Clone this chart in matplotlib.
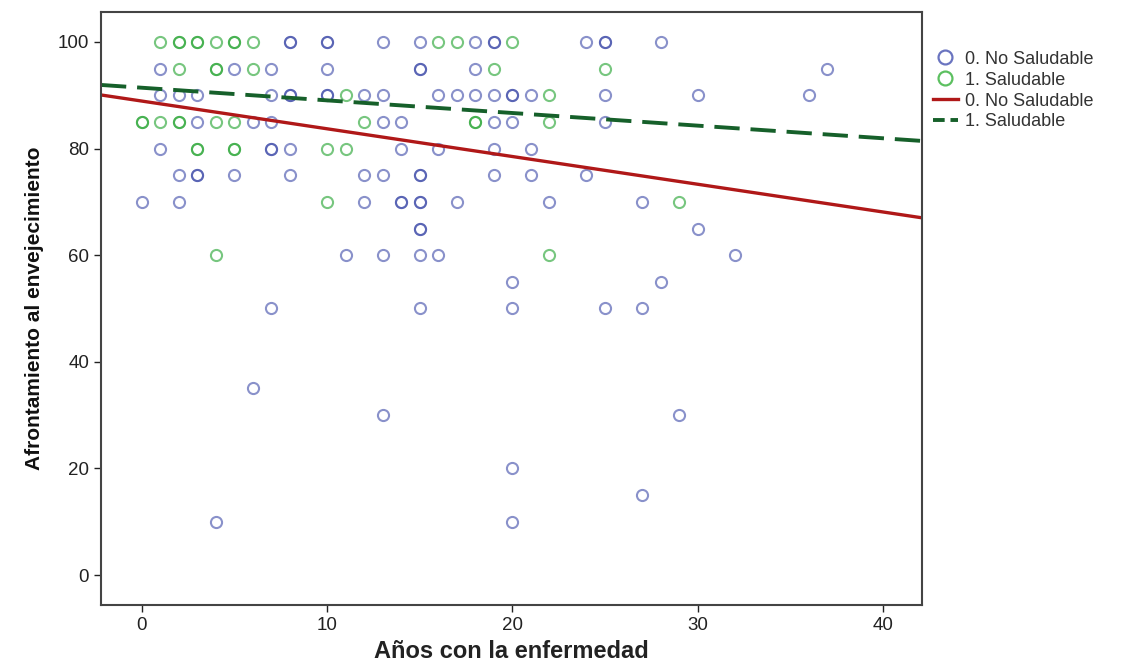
import numpy as np
import matplotlib.pyplot as plt
from matplotlib.lines import Line2D

# 0. No Saludable
no_x = [8, 8, 10, 10, 13, 15, 18, 19, 19, 24, 25, 25, 28,
        1, 5, 7, 10, 15, 15, 18, 37,
        1, 2, 3, 7, 8, 8, 10, 10, 12, 13, 16, 17, 18, 19, 20, 20, 21, 25, 30, 36,
        3, 6, 7, 13, 14, 19, 20, 25,
        1, 7, 7, 8, 14, 16, 19, 21,
        2, 3, 3, 5, 8, 12, 13, 15, 15, 19, 21, 24,
        0, 2, 12, 14, 14, 15, 15, 17, 22, 27,
        15, 15, 30,
        11, 13, 15, 16, 32,
        20, 28,
        7, 15, 20, 25, 27,
        6, 13, 29, 20, 27, 4, 20]
no_y = [100] * 13 + [95] * 8 + [90] * 20 + [85] * 8 + [80] * 8 + [75] * 12 + \
       [70] * 10 + [65] * 3 + [60] * 5 + [55] * 2 + [50] * 5 + \
       [35, 30, 30, 20, 15, 10, 10]

# 1. Saludable
sal_x = [1, 2, 2, 3, 3, 4, 5, 5, 6, 16, 17, 20,
         2, 4, 4, 6, 19, 25,
         11, 22,
         0, 0, 1, 2, 2, 4, 5, 12, 18, 18, 22,
         3, 3, 5, 5, 10, 11,
         10, 29,
         4, 22]
sal_y = [100] * 12 + [95] * 6 + [90] * 2 + [85] * 11 + [80] * 6 + [70] * 2 + [60] * 2

# rectas de ajuste (intercepto, pendiente)
fit_labels = ['0. No Saludable', '1. Saludable']
fit_intercept = [88.9, 91.4]
fit_slope = [-0.52, -0.237]

xlim = (-2.2, 42.1)
ylim = (-5.6, 105.6)

plt.rcParams['font.family'] = ['Liberation Sans', 'DejaVu Sans']

fig = plt.figure(figsize=(11.26, 6.67), dpi=100)
ax = fig.add_axes([0.0897, 0.093, 0.729, 0.889])

c_no = '#3b48a8'
c_sal = '#2fa83a'
ax.plot(no_x, no_y, 'o', mfc='none', mec=c_no, ms=8, mew=1.5, alpha=0.6, ls='none')
ax.plot(sal_x, sal_y, 'o', mfc='none', mec=c_sal, ms=8, mew=1.5, alpha=0.65, ls='none')

xx = np.array(xlim)
ax.plot(xx, fit_intercept[0] + fit_slope[0] * xx, color='#b01818', lw=2.4, solid_capstyle='butt')
ax.plot(xx, fit_intercept[1] + fit_slope[1] * xx, color='#16602a', lw=2.8,
        dashes=(6.5, 2.8), dash_capstyle='butt')

ax.set_xlim(*xlim)
ax.set_ylim(*ylim)
ax.set_xticks([0, 10, 20, 30, 40])
ax.set_yticks([0, 20, 40, 60, 80, 100])
ax.tick_params(direction='out', length=5, width=1, colors='#222222', labelsize=13.5)
ax.tick_params(axis='x', pad=4)
for s in ax.spines.values():
    s.set_color('#444444')
    s.set_linewidth(1.5)

ax.set_xlabel('Años con la enfermedad', fontsize=17, fontweight='bold', color='#222222', labelpad=4)
ax.set_ylabel('Afrontamiento al envejecimiento', fontsize=15, fontweight='bold',
              color='#111111', labelpad=10)

handles = [
    Line2D([], [], ls='none', marker='o', mfc='none', mec='#6a74c0', ms=10, mew=1.6),
    Line2D([], [], ls='none', marker='o', mfc='none', mec='#5cc060', ms=10, mew=1.6),
    Line2D([], [], color='#b01818', lw=2.4),
    Line2D([], [], color='#16602a', lw=2.8, dashes=(3, 1.5)),
]
labels = ['0. No Saludable', '1. Saludable'] + fit_labels
leg = fig.legend(handles, labels, loc='upper left', bbox_to_anchor=(0.822, 0.935),
                 frameon=False, fontsize=13, handlelength=1.4, handletextpad=0.4,
                 labelspacing=0.22, borderaxespad=0)
for t in leg.get_texts():
    t.set_color('#333333')

fig.savefig('out.png', dpi=100)
